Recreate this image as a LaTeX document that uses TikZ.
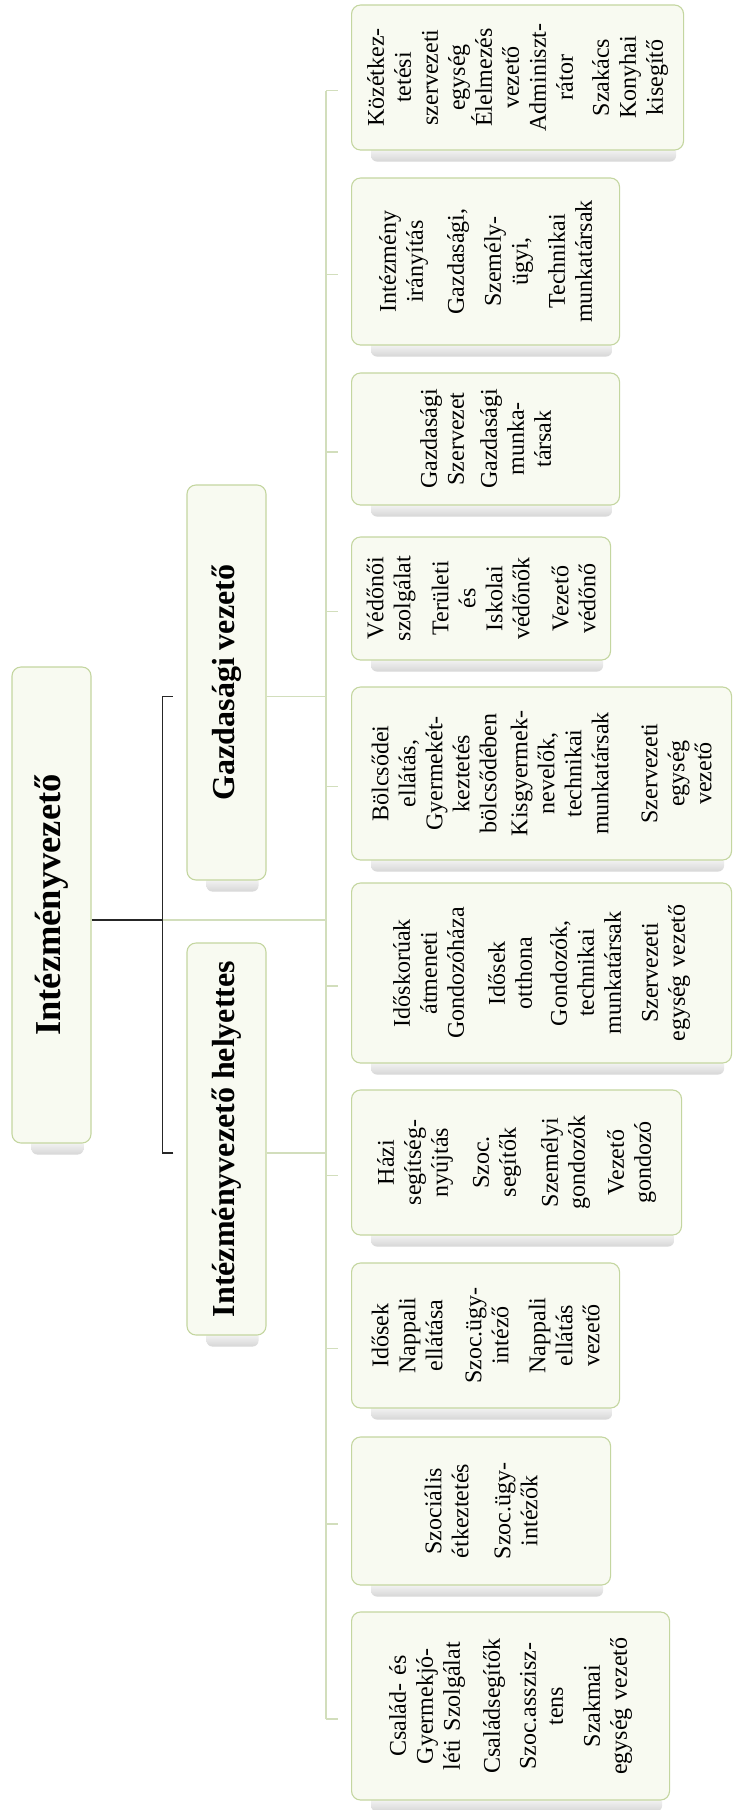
\documentclass[tikz,border=0pt]{standalone}
\usepackage{fontspec}
\setmainfont{Liberation Serif}
\usepackage{tikz}
\usetikzlibrary{positioning,backgrounds}
\definecolor{boxline}{RGB}{196,214,160}
\definecolor{boxfill}{RGB}{248,250,241}
\definecolor{linkgreen}{RGB}{210,222,188}

\begin{document}
\begin{tikzpicture}[x=1pt,y=1pt]
\tikzstyle{unit}=[rectangle, rounded corners=9pt, draw=boxline, line width=1.1pt, fill=boxfill, align=center, inner sep=4pt, font=\fontsize{24}{27}\selectfont]
\tikzstyle{lead}=[unit, minimum height=79pt, font=\bfseries\fontsize{32}{36}\selectfont]
\tikzstyle{service}=[unit, anchor=north]
\tikzstyle{link}=[line width=1.1pt, draw=linkgreen]
\tikzstyle{chain}=[line width=1.5pt, draw=black!85]
\useasboundingbox (0,0) rectangle (744,-1810);
\begin{scope}[shift={(744,-1810)}, rotate=90, transform shape]
	\node[lead, minimum width=476pt, font=\bfseries\fontsize{36.5}{40}\selectfont] (head) at (905,692.5) {Intézményvezető};
	\node[lead, minimum width=395pt] (dep_g) at (1127.5,517.5) {Gazdasági vezető};
	\node[lead, minimum width=392pt] (dep_h) at (671,517.5) {Intézményvezető helyettes};

	% services, tops on one line
	\node[service, minimum width=145pt, minimum height=332pt, text width=137pt] (s_1) at (1732.5,393)
		{Közétkez-\\tetési\\szervezeti\\egység\\Élelmezés\\vezető\\Adminiszt-\\rátor\\[9pt]Szakács\\Konyhai\\kisegítő};
	\node[service, minimum width=167pt, minimum height=268pt, text width=159pt] (s_2) at (1548.5,393)
		{Intézmény\\irányítás\\[14pt]Gazdasági,\\[10pt]Személy-\\ügyi,\\[10pt]Technikai\\munkatársak};
	\node[service, minimum width=132pt, minimum height=268pt, text width=124pt] (s_3) at (1371,393)
		{Gazdasági\\Szervezet\\[6pt]Gazdasági\\munka-\\társak};
	\node[service, minimum width=123pt, minimum height=259pt, text width=115pt] (s_4) at (1211.5,393)
		{Védőnői\\szolgálat\\[11pt]Területi\\és\\Iskolai\\védőnők\\[12pt]Vezető\\védőnő};
	\node[service, minimum width=173pt, minimum height=380pt, text width=165pt] (s_5) at (1036.5,393)
		{Bölcsődei\\ellátás,\\Gyermekét-\\keztetés\\bölcsődében\\[4pt]Kisgyermek-\\nevelők,\\technikai\\munkatársak\\[22pt]Szervezeti\\egység\\vezető};
	\node[service, minimum width=180pt, minimum height=380pt, text width=172pt] (s_6) at (837,393)
		{Időskorúak\\átmeneti\\Gondozóháza\\[14pt]Idősek\\otthona\\[8pt]Gondozók,\\technikai\\munkatársak\\[10pt]Szervezeti\\egység vezető};
	\node[service, minimum width=145pt, minimum height=330pt, text width=137pt] (s_7) at (647.5,393)
		{Házi\\segítség-\\nyújtás\\[14pt]Szoc.\\segítők\\[15pt]Személyi\\gondozók\\[12pt]Vezető\\gondozó};
	\node[service, minimum width=145pt, minimum height=268pt, text width=137pt] (s_8) at (474.5,393)
		{Idősek\\Nappali\\ellátása\\[12pt]Szoc.ügy-\\intéző\\[10pt]Nappali\\ellátás\\vezető};
	\node[service, minimum width=148pt, minimum height=259pt, text width=140pt] (s_9) at (299,393)
		{Szociális\\étkeztetés\\[15pt]Szoc.ügy-\\intézők};
	\node[service, minimum width=188pt, minimum height=318pt, text width=180pt] (s_10) at (104,393)
		{Család- és\\Gyermekjó-\\léti Szolgálat\\[13pt]Családsegítők\\[9pt]Szoc.asszisz-\\tens\\[10pt]Szakmai\\egység vezető};

	\coordinate (brk) at (890,581);
	\coordinate (hub) at (890,418);

	\draw[chain] ([xshift=-15]head.south) -- (brk);
	\draw[chain] ([xshift=-14,yshift=13]dep_h.north) -- ([xshift=-14,yshift=24]dep_h.north)
		-- ([xshift=-14,yshift=24]dep_g.north) -- ([xshift=-14,yshift=13]dep_g.north);
	\draw[link] (brk) -- (hub);
	\draw[link] ([xshift=-14]dep_g.south) -- ++(0,-60);
	\draw[link] ([xshift=-14]dep_h.south) -- ++(0,-60);
	\draw[link] ([xshift=-13,yshift=25]s_10.north) -- ([xshift=-13,yshift=25]s_1.north);
	\foreach \i in {1,...,10}
		\draw[link] ([xshift=-13,yshift=25]s_\i.north) -- ++(0,-12);

	\begin{scope}[on background layer]
		\fill[white] (0,0) rectangle (1810,744);
		\foreach \n in {head,dep_g,dep_h,s_1,s_2,s_3,s_4,s_5,s_6,s_7,s_8,s_9,s_10}
			\shade[rounded corners=6pt, top color=white, bottom color=black!16] ([xshift=-11,yshift=8]\n.south west) rectangle ([xshift=6,yshift=-20]\n.north west);
	\end{scope}
\end{scope}
\end{tikzpicture}
\end{document}
